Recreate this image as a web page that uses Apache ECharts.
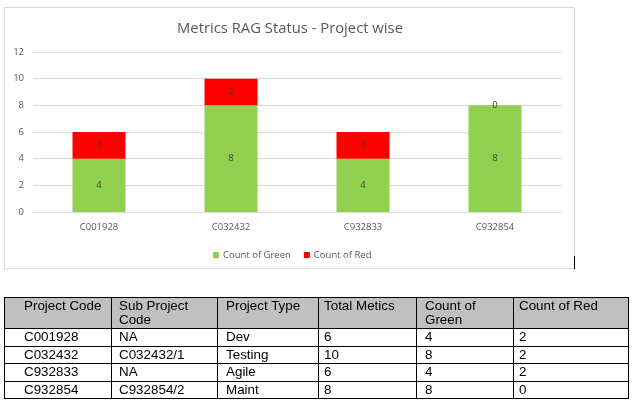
<!DOCTYPE html>
<html>
<head>
<meta charset="utf-8">
<script src="https://cdn.jsdelivr.net/npm/echarts@6/dist/echarts.min.js"></script>
<style>
  html, body { margin:0; padding:0; background:#fff; }
  #chart { position:absolute; left:0; top:0; width:635px; height:403px; }
  #tbl { position:absolute; left:4px; top:297px; border-collapse:collapse; table-layout:fixed;
         font-family:"Liberation Sans", Arial, sans-serif; font-size:13.4px; color:#000; }
  #tbl td, #tbl th { border:1px solid #000; padding:0 0 0 6px; font-weight:normal; text-align:left;
         white-space:normal; overflow:hidden; }
  #tbl th { background:#c0c0c0; vertical-align:top; height:29px; line-height:14px; padding-top:1px; }
  #tbl td { height:16.5px; line-height:14px; vertical-align:middle; }
</style>
</head>
<body>
<div id="chart"></div>
<table id="tbl"></table>
<script>
// ---- data ----
const categories = ['C001928', 'C032432', 'C932833', 'C932854'];
const greenCounts = [4, 8, 4, 8];
const redCounts = [2, 2, 2, 0];
const yTicks = [0, 2, 4, 6, 8, 10, 12];

const tableHeaders = ['Project Code', 'Sub Project Code', 'Project Type', 'Total Metics', 'Count of Green', 'Count of Red'];
const subProjectCodes = ['NA', 'C032432/1', 'NA', 'C932854/2'];
const projectTypes = ['Dev', 'Testing', 'Agile', 'Maint'];
const totalMetrics = [6, 10, 6, 8];

// ---- chart ----
const font = '"Open Sans", "Noto Sans", sans-serif';
const chart = echarts.init(document.getElementById('chart'), null, { renderer: 'canvas' });
chart.setOption({
  animation: false,
  textStyle: { fontFamily: font },
  title: {
    text: 'Metrics RAG Status - Project wise',
    left: 285, top: 16, textAlign: 'center',
    textStyle: { fontFamily: font, fontSize: 14.8, fontWeight: 'normal', color: '#595959' }
  },
  legend: {
    data: ['Count of Green', 'Count of Red'],
    left: 208, top: 245, itemWidth: 6, itemHeight: 6, itemGap: 13,
    icon: 'rect',
    textStyle: { fontFamily: font, fontSize: 9.5, color: '#595959', padding: [0, 0, 0, -1] }
  },
  grid: { left: 33, right: 74, top: 52, bottom: 191, containLabel: false },
  xAxis: {
    type: 'category', data: categories,
    axisLine: { lineStyle: { color: '#d9d9d9' } },
    axisTick: { show: false },
    axisLabel: { color: '#595959', fontFamily: font, fontSize: 9.5, margin: 10 }
  },
  yAxis: {
    type: 'value', min: yTicks[0], max: yTicks[yTicks.length - 1], interval: 2,
    axisLine: { show: false }, axisTick: { show: false },
    splitLine: { lineStyle: { color: '#d9d9d9' } },
    axisLabel: { color: '#595959', fontFamily: font, fontSize: 9.5, margin: 9 }
  },
  series: [
    {
      name: 'Count of Green', type: 'bar', stack: 'total', data: greenCounts,
      barWidth: 53, itemStyle: { color: '#92d050' },
      label: { show: true, position: 'inside', color: '#404040', fontFamily: font, fontSize: 9.5 }
    },
    {
      name: 'Count of Red', type: 'bar', stack: 'total', data: redCounts,
      barWidth: 53, itemStyle: { color: '#ff0000' },
      label: { show: true, position: 'inside', color: '#404040', fontFamily: font, fontSize: 9.5 }
    }
  ],
  graphic: [
    { type: 'rect', shape: { x: 4.5, y: 7.5, width: 570, height: 261 }, style: { fill: 'none', stroke: '#d9d9d9', lineWidth: 1 }, z: -1 },
    { type: 'line', shape: { x1: 574.5, y1: 256, x2: 574.5, y2: 269 }, style: { stroke: '#000', lineWidth: 1 } }
  ]
});

// ---- table ----
const tbl = document.getElementById('tbl');
const colWidths = [107, 106, 101, 98, 97, 115];
const colPads = [19, 7, 8, 5, 8, 5];
const cg = document.createElement('colgroup');
colWidths.forEach(w => { const c = document.createElement('col'); c.style.width = w + 'px'; cg.appendChild(c); });
tbl.appendChild(cg);
tbl.style.width = colWidths.reduce((a, b) => a + b, 0) + 'px';
const hr = document.createElement('tr');
tableHeaders.forEach((h, i) => { const th = document.createElement('th'); th.textContent = h; th.style.paddingLeft = colPads[i] + 'px'; hr.appendChild(th); });
tbl.appendChild(hr);
categories.forEach((c, r) => {
  const tr = document.createElement('tr');
  [c, subProjectCodes[r], projectTypes[r], totalMetrics[r], greenCounts[r], redCounts[r]].forEach((v, i) => {
    const td = document.createElement('td'); td.textContent = v; td.style.paddingLeft = colPads[i] + 'px'; tr.appendChild(td);
  });
  tbl.appendChild(tr);
});
</script>
</body>
</html>
